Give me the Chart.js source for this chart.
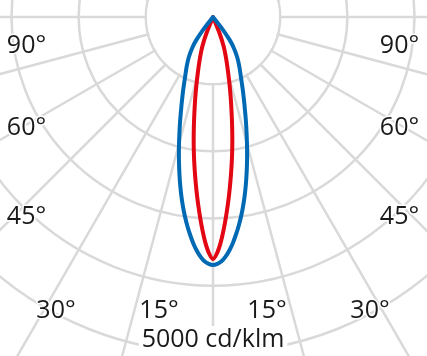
<!DOCTYPE html>
<html>
<head>
<meta charset="utf-8">
<script src="https://cdn.jsdelivr.net/npm/chart.js@4.4.1/dist/chart.umd.min.js"></script>
<style>
  html, body { margin: 0; padding: 0; background: #fff; }
  body { width: 427px; height: 356px; overflow: hidden; position: relative; }
  #polar { position: absolute; left: -190px; top: -386px; }
</style>
</head>
<body>
<canvas id="polar" width="806" height="806"></canvas>
<script>
// Intensity in cd/klm against angle from nadir (both planes symmetric)
const blueAngles = [0, 1, 2, 3, 4, 5, 6, 7, 8, 9, 10, 11, 12, 13, 14, 15, 16, 17, 18, 19, 20,
  22, 25, 28, 31, 34, 36, 38, 40];
const blueValues = [3692, 3677, 3640, 3573, 3484, 3380, 3260, 3134, 3000, 2858, 2710, 2556, 2401,
  2248, 2099, 1955, 1816, 1690, 1571, 1459, 1362, 1191, 983, 834, 700, 551, 417, 223, 0];
const redAngles = [0, 1, 2, 3, 4, 5, 6, 7, 8, 9, 10, 11, 12, 13, 14, 16, 18, 20, 22, 24];
const redValues = [3603, 3514, 3350, 3141, 2918, 2695, 2471, 2256, 2047, 1839, 1638, 1452, 1288,
  1139, 1005, 782, 610, 462, 253, 0];

const ringStep = 1000;
const ringMax = 6000;
const angleLabels = ['90°', '60°', '45°', '30°', '15°'];
const scaleLabel = '5000 cd/klm';

const gridColor = '#d9d9d9';
const gridWidth = 2.5;
const textColor = '#1a1a1a';
// label offsets from the pole (x mirrored on both sides, y = baseline)
const labelPos = {
  '90°': [186.5, 36], '60°': [186.5, 118], '45°': [186.5, 207],
  '30°': [157, 301], '15°': [54, 301],
};

// one label per degree, so spokes fall every 15
const degrees = Array.from({ length: 360 }, (_, i) => String(i));

function spread(angles, values) {
  const out = new Array(360).fill(null);
  angles.forEach((a, k) => {
    out[a] = values[k];
    out[(360 - a) % 360] = values[k];
  });
  return out;
}

const polarDecor = {
  id: 'polarDecor',
  beforeDatasetsDraw(chart) {
    const s = chart.scales.r, ctx = chart.ctx;
    const cx = s.xCenter, cy = s.yCenter;
    ctx.save();
    // spokes begin at the first ring
    ctx.fillStyle = '#fff';
    ctx.beginPath();
    ctx.arc(cx, cy, s.getDistanceFromCenterForValue(ringStep) - gridWidth / 2, 0, Math.PI * 2);
    ctx.fill();

    ctx.font = '25px "Open Sans"';
    ctx.textAlign = 'center';
    ctx.textBaseline = 'alphabetic';
    ctx.lineJoin = 'round';
    angleLabels.forEach(t => {
      const [dx, dy] = labelPos[t];
      [-dx, dx].forEach(x => {
        ctx.strokeStyle = '#fff';
        ctx.lineWidth = 3;
        ctx.strokeText(t, cx + x, cy + dy);
        ctx.fillStyle = textColor;
        ctx.fillText(t, cx + x, cy + dy);
      });
    });
    const w = ctx.measureText(scaleLabel).width;
    ctx.fillStyle = '#fff';
    ctx.fillRect(cx - w / 2 - 3, cy + 309, w + 6, 40);
    ctx.fillStyle = textColor;
    ctx.fillText(scaleLabel, cx, cy + 330);
    ctx.restore();
  }
};

new Chart(document.getElementById('polar'), {
  type: 'radar',
  data: {
    labels: degrees,
    datasets: [
      {
        data: spread(blueAngles, blueValues),
        borderColor: '#0069b4',
        borderWidth: 4,
      },
      {
        data: spread(redAngles, redValues),
        borderColor: '#e30613',
        borderWidth: 4,
      },
    ],
  },
  options: {
    responsive: false,
    animation: false,
    events: [],
    layout: { padding: 0 },
    elements: {
      line: { fill: false, tension: 0.3, borderJoinStyle: 'round', capBezierPoints: false },
      point: { radius: 0, hitRadius: 0 },
    },
    datasets: { radar: { spanGaps: true } },
    plugins: { legend: { display: false }, tooltip: { enabled: false } },
    scales: {
      r: {
        min: 0,
        max: ringMax,
        startAngle: 180,
        ticks: { display: false, stepSize: ringStep },
        pointLabels: { display: false },
        grid: { circular: true, color: gridColor, lineWidth: gridWidth },
        angleLines: {
          display: true,
          color: gridColor,
          lineWidth: (c) => (c.index % 15 === 0 ? gridWidth : 0),
        },
      },
    },
  },
  plugins: [polarDecor],
});
</script>
</body>
</html>
